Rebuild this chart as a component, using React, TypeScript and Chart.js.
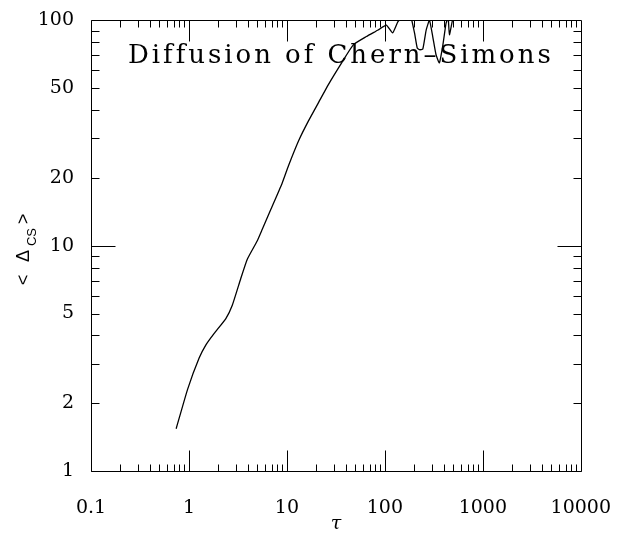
import React, { useEffect, useRef } from 'react';
import { Chart, registerables } from 'chart.js';

Chart.register(...registerables);

// Data
const tau = [
  0.74, 0.97, 1.27, 1.49, 1.81, 2.38, 2.77, 3.37, 3.94, 4.97, 5.59, 6.81, 8.92,
  10.4, 13.2, 16.6, 21.9, 26.5, 36.2, 47.6, 64.9, 85.3, 103.5, 120, 136, 153,
  168, 184, 201, 214, 226, 244, 264, 285, 308, 333, 360, 389, 421, 437, 443,
  456, 492, 520,
];
const deltaCS = [
  1.54, 2.31, 3.17, 3.63, 4.08, 4.75, 5.44, 7.12, 8.71, 10.5, 11.8, 14.4, 18.9,
  22.7, 29.3, 35.8, 44.6, 51.9, 64.8, 77.9, 84.8, 90.6, 95.3, 88, 98.7, 104,
  110, 104, 87.7, 75.4, 74.1, 74.6, 90.6, 100.3, 84.8, 70.4, 64.8, 76.7, 97,
  101.7, 104, 86.3, 101, 108,
];

const xTickValues = [0.1, 1, 10, 100, 1000, 10000];
const xTickLabels = ['0.1', '1', '10', '100', '1000', '10000'];
const yTickValues = [1, 2, 5, 10, 20, 50, 100];
const yTickLabels = ['1', '2', '5', '10', '20', '50', '100'];
const chartTitle = 'Diffusion of Chern–Simons';
const xTitle = 'τ';
const yTitleMain = 'Δ';
const yTitleSub = 'CS';

const framePlugin = {
  id: 'frame',
  afterDatasetsDraw(chart: any) {
    const { ctx, chartArea: a, scales } = chart;
    const x = scales.x;
    const y = scales.y;
    ctx.save();
    ctx.strokeStyle = '#000';
    ctx.lineWidth = 1;
    const L = Math.round(a.left) + 0.5;
    const R = Math.round(a.right) + 0.5;
    const T = Math.round(a.top) + 0.5;
    const B = Math.round(a.bottom) + 0.5;
    ctx.beginPath();
    ctx.rect(L, T, R - L, B - T);
    ctx.stroke();

    ctx.beginPath();
    // x ticks (bottom and top, inward)
    for (let d = -1; d <= 3; d++) {
      for (let m = 1; m <= 9; m++) {
        const v = m * Math.pow(10, d);
        const px = Math.round(x.getPixelForValue(v)) + 0.5;
        const len = m === 1 ? 21 : 7;
        ctx.moveTo(px, B);
        ctx.lineTo(px, B - len);
        ctx.moveTo(px, T);
        ctx.lineTo(px, T + len);
      }
    }
    // y ticks (left and right, inward)
    for (let d = 0; d <= 1; d++) {
      for (let m = 1; m <= 9; m++) {
        const v = m * Math.pow(10, d);
        const py = Math.round(y.getPixelForValue(v)) + 0.5;
        const len = v === 10 ? 24 : 8;
        ctx.moveTo(L, py);
        ctx.lineTo(L + len, py);
        ctx.moveTo(R, py);
        ctx.lineTo(R - len, py);
      }
    }
    ctx.stroke();

    // Title inside the plot
    ctx.fillStyle = '#000';
    ctx.font = '26px "DejaVu Serif"';
    ctx.textBaseline = 'alphabetic';
    ctx.textAlign = 'left';
    const w0 = ctx.measureText(chartTitle).width;
    const target = 422;
    const spacing = (target - w0) / (chartTitle.length - 1);
    (ctx as any).letterSpacing = `${spacing.toFixed(2)}px`;
    ctx.fillText(chartTitle, 128, 63);
    (ctx as any).letterSpacing = '0px';

    // Y axis title: < Δ_CS >
    const drawRot = (txt: string, cx: number, cy: number, font: string) => {
      ctx.save();
      ctx.translate(cx, cy);
      ctx.rotate(-Math.PI / 2);
      ctx.font = font;
      ctx.textAlign = 'center';
      ctx.textBaseline = 'alphabetic';
      ctx.fillText(txt, 0, 0);
      ctx.restore();
    };
    const mainFont = '18px "Liberation Sans"';
    drawRot('<', 29, 280, mainFont);
    drawRot(yTitleMain, 29, 256, mainFont);
    drawRot(yTitleSub, 36, 237, '13px "Liberation Sans"');
    drawRot('>', 29, 219, mainFont);
    ctx.restore();
  },
};

export default function App() {
  const ref = useRef<HTMLCanvasElement | null>(null);
  useEffect(() => {
    if (!ref.current) return;
    const chart = new Chart(ref.current, {
      type: 'line',
      data: {
        datasets: [
          {
            data: tau.map((t, i) => ({ x: t, y: deltaCS[i] })),
            borderColor: '#000',
            borderWidth: 1.3,
            pointRadius: 0,
            tension: 0.15,
            fill: false,
          },
        ],
      },
      options: {
        animation: false,
        responsive: false,
        events: [],
        layout: { padding: { left: 0, right: 45, top: 15, bottom: 0 } },
        plugins: {
          legend: { display: false },
          tooltip: { enabled: false },
          title: { display: false },
        },
        scales: {
          x: {
            type: 'logarithmic',
            min: 0.1,
            max: 10000,
            grid: { display: false },
            border: { display: false },
            afterBuildTicks: (s: any) => {
              s.ticks = xTickValues.map((v) => ({ value: v }));
            },
            afterFit: (s: any) => {
              s.height = 64;
            },
            ticks: {
              autoSkip: false,
              maxRotation: 0,
              minRotation: 0,
              padding: 18,
              color: '#000',
              font: { family: '"DejaVu Serif"', size: 19 },
              callback: (_v: any, i: number) => xTickLabels[i],
            },
            title: {
              display: true,
              text: xTitle,
              color: '#000',
              font: { family: '"DejaVu Serif"', size: 19, style: 'italic' },
              padding: { top: 0, bottom: 0 },
            },
          },
          y: {
            type: 'logarithmic',
            min: 1,
            max: 100,
            grid: { display: false },
            border: { display: false },
            afterBuildTicks: (s: any) => {
              s.ticks = yTickValues.map((v) => ({ value: v }));
            },
            afterFit: (s: any) => {
              s.width = 91;
            },
            ticks: {
              autoSkip: false,
              padding: 9,
              color: '#000',
              font: { family: '"DejaVu Serif"', size: 19 },
              callback: (_v: any, i: number) => yTickLabels[i],
            },
          },
        },
      },
      plugins: [framePlugin],
    } as any);
    return () => chart.destroy();
  }, []);
  return (
    <div style={{ position: 'absolute', left: 0, top: 0, width: 629, height: 535, background: '#fff' }}>
      <canvas ref={ref} width={629} height={535} style={{ display: 'block' }} />
    </div>
  );
}
